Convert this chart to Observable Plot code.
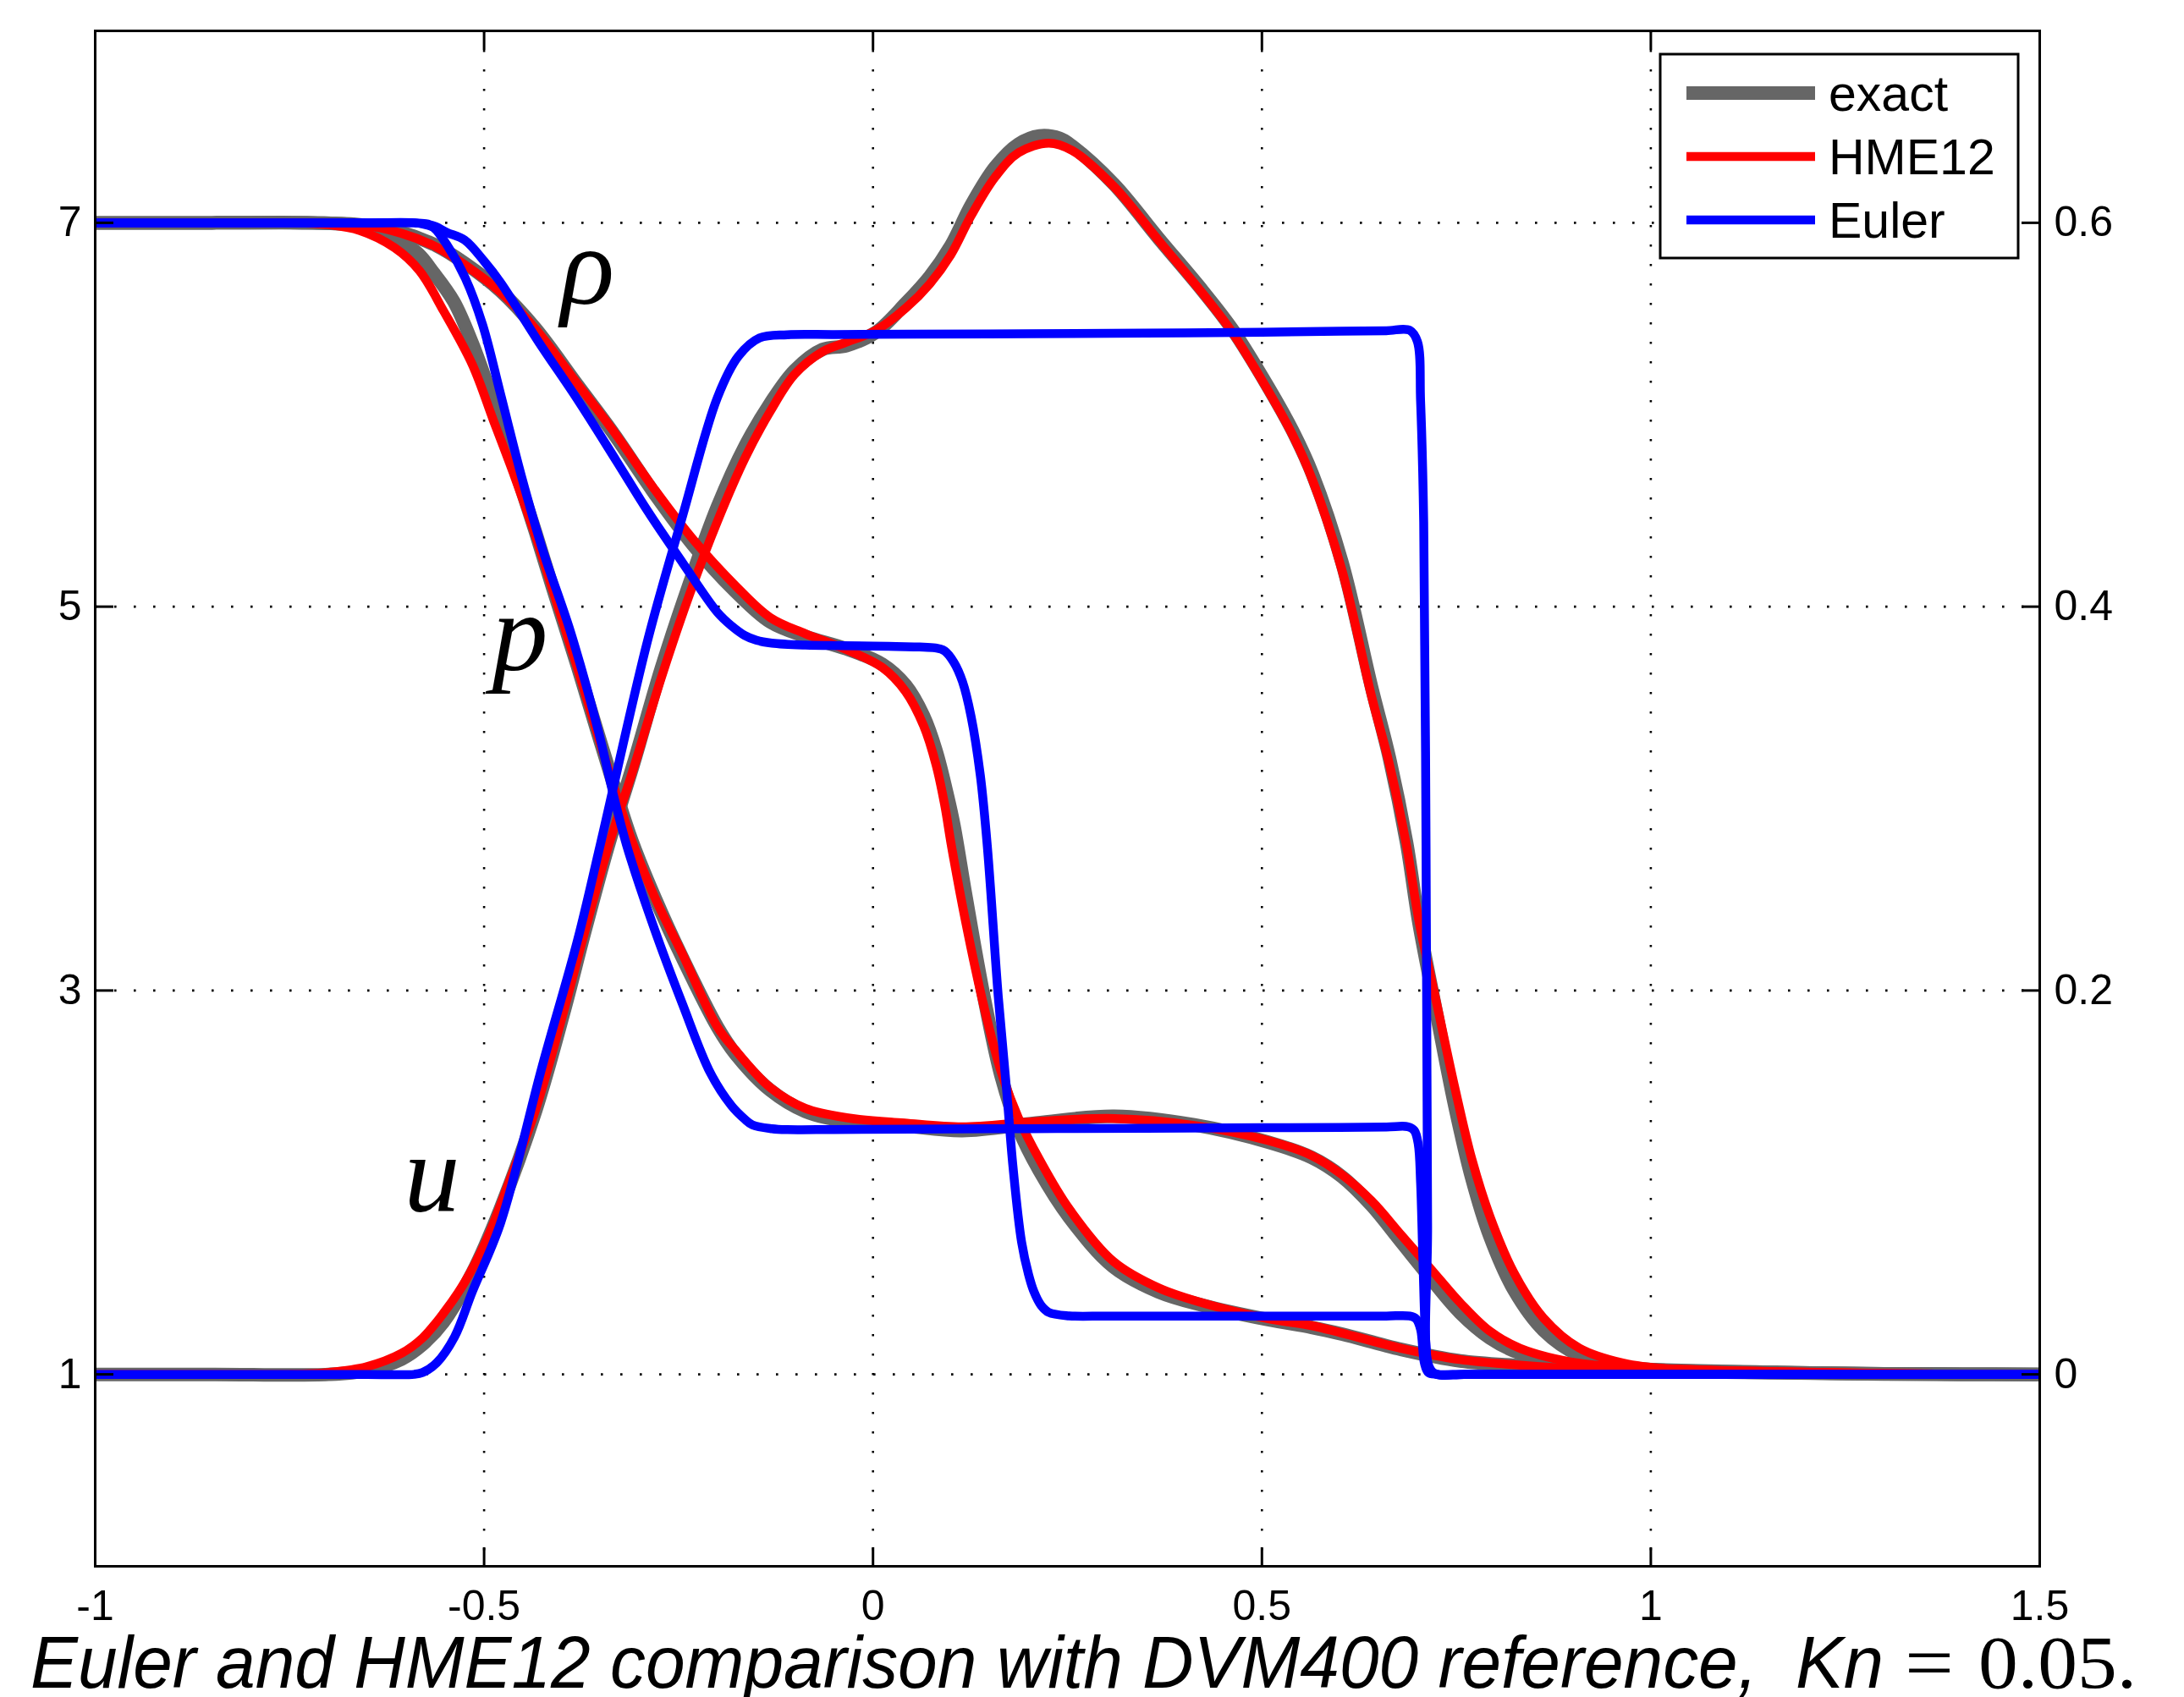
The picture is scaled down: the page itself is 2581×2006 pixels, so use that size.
<!DOCTYPE html>
<html><head><meta charset="utf-8">
<script src="https://cdn.jsdelivr.net/npm/d3@7"></script>
<script src="https://cdn.jsdelivr.net/npm/@observablehq/plot@0.6"></script>
<style>
html,body{margin:0;padding:0;background:#fff;overflow:hidden;}
</style></head><body><div id="chart"></div>
<script>
// ---- axes / ticks ----
const xTicks = [-1, -0.5, 0, 0.5, 1, 1.5];
const yTicksLeft = [1, 3, 5, 7];
const uTicksRight = [0, 0.2, 0.4, 0.6];

// ---- series ----
const seriesNames = ["exact", "HME12", "Euler"];
const seriesColors = ["#666666", "#ff0000", "#0000ff"];
const seriesWidths = [16, 10.5, 10.5];

// ---- variable labels ----
const varLabels = ["ρ", "p", "u"];
const varLabelX = [-0.367, -0.454, -0.567];
const varLabelY = [6.578, 4.669, 1.853];

// ---- caption ----
const captionText = "Euler and HME12 comparison with DVM400 reference,";
const captionKn = "Kn";
const captionEq = "=";
const captionVal = "0.05.";

// ---- data: [x, value] ----
const exactRho = [[-1,7],[-0.85,7],[-0.75,7],[-0.66,6.99],[-0.606,6.95],[-0.561,6.88],[-0.525,6.79],[-0.479,6.645],[-0.434,6.45],[-0.38,6.155],[-0.335,5.91],[-0.281,5.59],[-0.231,5.32],[-0.177,5.08],[-0.132,4.92],[-0.087,4.845],[-0.034,4.78],[0.012,4.70],[0.042,4.59],[0.065,4.43],[0.081,4.25],[0.096,4.01],[0.104,3.86],[0.119,3.50],[0.142,2.98],[0.165,2.55],[0.187,2.28],[0.214,2.06],[0.252,1.82],[0.309,1.56],[0.367,1.43],[0.424,1.36],[0.508,1.285],[0.564,1.245],[0.603,1.21],[0.679,1.13],[0.755,1.07],[0.832,1.045],[0.908,1.027],[1.003,1.017],[1.163,1.008],[1.3,1.002],[1.4,1.001],[1.5,1]];
const exactP = [[-1,7],[-0.85,7],[-0.72,7],[-0.66,6.985],[-0.637,6.95],[-0.588,6.85],[-0.565,6.74],[-0.539,6.59],[-0.515,6.37],[-0.491,6.10],[-0.461,5.73],[-0.434,5.39],[-0.412,5.10],[-0.38,4.69],[-0.353,4.33],[-0.331,4.04],[-0.31,3.78],[-0.28,3.48],[-0.245,3.17],[-0.2,2.81],[-0.177,2.67],[-0.132,2.48],[-0.087,2.37],[-0.034,2.32],[0.04,2.295],[0.115,2.27],[0.21,2.31],[0.31,2.345],[0.413,2.30],[0.508,2.21],[0.564,2.13],[0.603,2.03],[0.641,1.88],[0.679,1.69],[0.717,1.50],[0.755,1.32],[0.793,1.19],[0.832,1.11],[0.908,1.045],[1.003,1.025],[1.163,1.01],[1.3,1.003],[1.4,1.001],[1.5,1]];
const exactU = [[-1,0],[-0.85,0],[-0.70,0],[-0.651,0.002],[-0.606,0.008],[-0.579,0.0156],[-0.552,0.0274],[-0.515,0.053],[-0.479,0.0864],[-0.434,0.137],[-0.398,0.188],[-0.371,0.230],[-0.340,0.276],[-0.308,0.318],[-0.272,0.368],[-0.236,0.412],[-0.2,0.452],[-0.164,0.484],[-0.132,0.506],[-0.101,0.523],[-0.065,0.534],[-0.034,0.536],[0.004,0.543],[0.042,0.558],[0.073,0.572],[0.100,0.588],[0.126,0.609],[0.157,0.629],[0.187,0.641],[0.214,0.6453],[0.240,0.644],[0.256,0.640],[0.310,0.620],[0.367,0.592],[0.424,0.5645],[0.462,0.5445],[0.508,0.5145],[0.539,0.492],[0.565,0.469],[0.603,0.423],[0.641,0.358],[0.664,0.321],[0.686,0.277],[0.702,0.235],[0.725,0.187],[0.748,0.140],[0.770,0.102],[0.793,0.072],[0.824,0.044],[0.862,0.023],[0.908,0.010],[0.965,0.004],[1.022,0.002],[1.163,0.001],[1.3,0.0003],[1.4,0.0001],[1.5,0]];

const hmeRho = [[-1,7],[-0.85,7],[-0.75,7],[-0.66,6.99],[-0.606,6.945],[-0.561,6.873],[-0.525,6.782],[-0.479,6.639],[-0.434,6.448],[-0.38,6.161],[-0.335,5.922],[-0.281,5.612],[-0.231,5.349],[-0.177,5.11],[-0.132,4.943],[-0.087,4.859],[-0.034,4.776],[0.012,4.683],[0.042,4.557],[0.065,4.38],[0.081,4.177],[0.092,3.97],[0.101,3.75],[0.119,3.36],[0.142,2.927],[0.165,2.573],[0.187,2.336],[0.214,2.12],[0.252,1.864],[0.309,1.589],[0.367,1.451],[0.424,1.372],[0.508,1.29],[0.564,1.254],[0.603,1.215],[0.679,1.136],[0.755,1.077],[0.832,1.048],[0.908,1.028],[1.003,1.018],[1.163,1.01],[1.3,1.003],[1.4,1.001],[1.5,1]];
const hmeP = [[-1,7],[-0.85,7],[-0.75,7],[-0.70,6.99],[-0.66,6.96],[-0.615,6.87],[-0.583,6.75],[-0.552,6.54],[-0.515,6.26],[-0.488,5.97],[-0.461,5.68],[-0.434,5.37],[-0.412,5.09],[-0.38,4.68],[-0.353,4.32],[-0.331,4.035],[-0.31,3.78],[-0.28,3.48],[-0.245,3.19],[-0.2,2.81],[-0.177,2.69],[-0.132,2.494],[-0.087,2.386],[-0.034,2.337],[0.04,2.31],[0.115,2.29],[0.21,2.317],[0.31,2.333],[0.413,2.297],[0.508,2.218],[0.564,2.14],[0.603,2.04],[0.641,1.904],[0.679,1.727],[0.717,1.55],[0.755,1.373],[0.793,1.225],[0.832,1.136],[0.908,1.058],[1.003,1.032],[1.163,1.014],[1.3,1.005],[1.4,1.001],[1.5,1]];
const hmeU = [[-1,0],[-0.85,0],[-0.75,0],[-0.70,0.001],[-0.651,0.004],[-0.606,0.011],[-0.579,0.019],[-0.552,0.032],[-0.525,0.048],[-0.497,0.070],[-0.470,0.098],[-0.434,0.1376],[-0.398,0.1887],[-0.371,0.230],[-0.340,0.2753],[-0.308,0.3155],[-0.272,0.3632],[-0.236,0.4062],[-0.2,0.4445],[-0.164,0.4779],[-0.132,0.5018],[-0.101,0.5209],[-0.065,0.5328],[-0.034,0.5378],[0.004,0.544],[0.042,0.5555],[0.073,0.5682],[0.100,0.5833],[0.126,0.6036],[0.157,0.6238],[0.187,0.6365],[0.226,0.6415],[0.256,0.6377],[0.310,0.6188],[0.367,0.5909],[0.424,0.5631],[0.462,0.5429],[0.508,0.5125],[0.539,0.4898],[0.565,0.466],[0.603,0.4189],[0.641,0.3532],[0.664,0.3177],[0.686,0.2753],[0.702,0.236],[0.725,0.1927],[0.748,0.1494],[0.770,0.112],[0.793,0.0825],[0.824,0.053],[0.862,0.0294],[0.908,0.0137],[0.965,0.0058],[1.022,0.0028],[1.163,0.0014],[1.3,0.0004],[1.4,0.0001],[1.5,0]];

const eulerRho = [[-1,7],[-0.8,7],[-0.65,7],[-0.59,7],[-0.575,6.995],[-0.562,6.98],[-0.548,6.95],[-0.525,6.91],[-0.5,6.80],[-0.479,6.69],[-0.43,6.38],[-0.38,6.08],[-0.33,5.76],[-0.29,5.50],[-0.245,5.23],[-0.2,4.97],[-0.182,4.90],[-0.165,4.85],[-0.15,4.825],[-0.13,4.81],[-0.087,4.80],[-0.04,4.797],[0,4.795],[0.03,4.792],[0.06,4.79],[0.08,4.785],[0.092,4.77],[0.104,4.71],[0.115,4.61],[0.126,4.43],[0.138,4.12],[0.147,3.75],[0.161,2.97],[0.172,2.47],[0.18,2.08],[0.191,1.69],[0.2,1.52],[0.207,1.43],[0.216,1.36],[0.226,1.323],[0.252,1.305],[0.3,1.304],[0.4,1.304],[0.5,1.304],[0.6,1.304],[0.66,1.304],[0.69,1.304],[0.698,1.29],[0.704,1.235],[0.709,1.058],[0.714,1.01],[0.725,1],[0.76,1],[0.85,1],[1.0,1],[1.25,1],[1.5,1]];
const eulerP = [[-1,7],[-0.8,7],[-0.65,7],[-0.59,7],[-0.575,6.99],[-0.565,6.975],[-0.547,6.88],[-0.524,6.71],[-0.502,6.47],[-0.479,6.11],[-0.452,5.68],[-0.425,5.30],[-0.389,4.87],[-0.353,4.35],[-0.335,4.04],[-0.317,3.76],[-0.281,3.32],[-0.245,2.93],[-0.209,2.57],[-0.182,2.40],[-0.165,2.33],[-0.155,2.30],[-0.13,2.28],[-0.11,2.275],[-0.05,2.276],[0.05,2.278],[0.2,2.28],[0.35,2.282],[0.5,2.285],[0.6,2.287],[0.66,2.289],[0.688,2.29],[0.696,2.27],[0.701,2.2],[0.704,2.0],[0.707,1.6],[0.711,1.15],[0.715,1.02],[0.725,1],[0.76,1],[0.85,1],[1.0,1],[1.25,1],[1.5,1]];
const eulerU = [[-1,0],[-0.8,0],[-0.65,0],[-0.59,0],[-0.579,0.001],[-0.561,0.006],[-0.538,0.0195],[-0.515,0.0432],[-0.479,0.0786],[-0.425,0.161],[-0.38,0.226],[-0.351,0.2753],[-0.29,0.382],[-0.245,0.447],[-0.2,0.509],[-0.173,0.5305],[-0.146,0.540],[-0.11,0.5417],[-0.05,0.5418],[0.05,0.542],[0.2,0.5422],[0.35,0.5425],[0.5,0.543],[0.6,0.5435],[0.66,0.5438],[0.69,0.544],[0.7,0.538],[0.704,0.507],[0.708,0.444],[0.711,0.275],[0.713,0.079],[0.715,0.004],[0.725,0],[0.76,0],[0.85,0],[1.0,0],[1.25,0],[1.5,0]];

// ---- dual axis mapping (right axis u aligned with left ticks) ----
const uBase = yTicksLeft[0];
const uScale = (yTicksLeft[yTicksLeft.length - 1] - yTicksLeft[0]) / (uTicksRight[uTicksRight.length - 1] - uTicksRight[0]);
const uToY = u => uBase + (u - uTicksRight[0]) * uScale;
const yToU = y => (y - uBase) / uScale + uTicksRight[0];

const methods = [
  {rho: exactRho, p: exactP, u: exactU},
  {rho: hmeRho, p: hmeP, u: hmeU},
  {rho: eulerRho, p: eulerP, u: eulerU}
];

const lineMarks = [];
methods.forEach((m, i) => {
  const st = {stroke: seriesColors[i], strokeWidth: seriesWidths[i], curve: "catmull-rom", strokeLinejoin: "round", strokeLinecap: "butt"};
  lineMarks.push(Plot.line(m.rho, {x: d => d[0], y: d => d[1], ...st}));
  lineMarks.push(Plot.line(m.p, {x: d => d[0], y: d => d[1], ...st}));
  lineMarks.push(Plot.line(m.u, {x: d => d[0], y: d => uToY(d[1]), ...st}));
});

const gridStyle = {stroke: "black", strokeOpacity: 1, strokeWidth: 2.6, strokeDasharray: "2.6,20.4"};
const sansFont = "'Liberation Sans', Arial, Helvetica, sans-serif";

const chart = Plot.plot({
  width: 2581,
  height: 2006,
  marginLeft: 112,
  marginRight: 171,
  marginTop: 36,
  marginBottom: 155,
  x: {domain: [xTicks[0], xTicks[xTicks.length - 1]]},
  y: {domain: [0, 8]},
  style: {fontFamily: sansFont, fontSize: "50px", color: "black", background: "white"},
  marks: [
    Plot.gridX(xTicks.slice(1, -1), gridStyle),
    Plot.gridY(yTicksLeft, gridStyle),
    ...lineMarks,
    Plot.axisX(xTicks, {anchor: "bottom", tickSize: -22, tickPadding: 50, strokeWidth: 3, fontSize: 50, tickFormat: d => String(d)}),
    Plot.axisX(xTicks, {anchor: "top", tickSize: -22, tickPadding: 0, strokeWidth: 3, tickFormat: () => ""}),
    Plot.axisY(yTicksLeft, {anchor: "left", tickSize: -22, tickPadding: 38, strokeWidth: 3, fontSize: 50, tickFormat: d => String(d)}),
    Plot.axisY(uTicksRight.map(uToY), {anchor: "right", tickSize: -22, tickPadding: 39, strokeWidth: 3, fontSize: 50, tickFormat: d => String(Math.round(yToU(d) * 10) / 10)}),
    Plot.frame({stroke: "black", strokeWidth: 3}),
    Plot.text(varLabels, {x: (d, i) => varLabelX[i], y: (d, i) => varLabelY[i], text: d => d, fontFamily: "'Liberation Serif', 'Times New Roman', serif", fontStyle: "italic", fontSize: 132, lineAnchor: "bottom", textAnchor: "middle", fill: "black"})
  ]
});

document.getElementById("chart").appendChild(chart);

// ---- legend ----
const svg = d3.select(chart);
const lg = svg.append("g").attr("class", "legend").attr("text-anchor", "start");
lg.append("rect").attr("x", 1962).attr("y", 64).attr("width", 423).attr("height", 241)
  .attr("fill", "white").attr("stroke", "black").attr("stroke-width", 3);
seriesNames.forEach((n, i) => {
  const cy = 110 + i * 75;
  lg.append("line").attr("x1", 1993).attr("x2", 2145).attr("y1", cy).attr("y2", cy)
    .attr("stroke", seriesColors[i]).attr("stroke-width", seriesWidths[i]);
  lg.append("text").attr("x", 2161).attr("y", cy + 21).attr("font-size", 59)
    .attr("text-anchor", "start").attr("font-family", sansFont).attr("fill", "black").text(n);
});

// ---- caption ----
const cap = svg.append("g").attr("class", "caption").attr("font-size", 88).attr("fill", "black").attr("text-anchor", "start");
cap.append("text").attr("x", 36).attr("y", 1995).attr("text-anchor", "start").attr("font-family", sansFont).attr("font-style", "italic")
  .attr("textLength", 2041).attr("lengthAdjust", "spacingAndGlyphs").text(captionText);
cap.append("text").attr("x", 2122).attr("y", 1995).attr("text-anchor", "start").attr("font-family", sansFont).attr("font-style", "italic")
  .attr("textLength", 104).attr("lengthAdjust", "spacingAndGlyphs").text(captionKn);
cap.append("text").attr("x", 2251).attr("y", 1995).attr("text-anchor", "start").attr("font-family", "'Liberation Serif', serif")
  .attr("textLength", 58).attr("lengthAdjust", "spacingAndGlyphs").text(captionEq);
cap.append("text").attr("x", 2338).attr("y", 1995).attr("text-anchor", "start").attr("font-family", "'Liberation Serif', serif")
  .attr("textLength", 187).attr("lengthAdjust", "spacingAndGlyphs").text(captionVal);
</script>
</body></html>
